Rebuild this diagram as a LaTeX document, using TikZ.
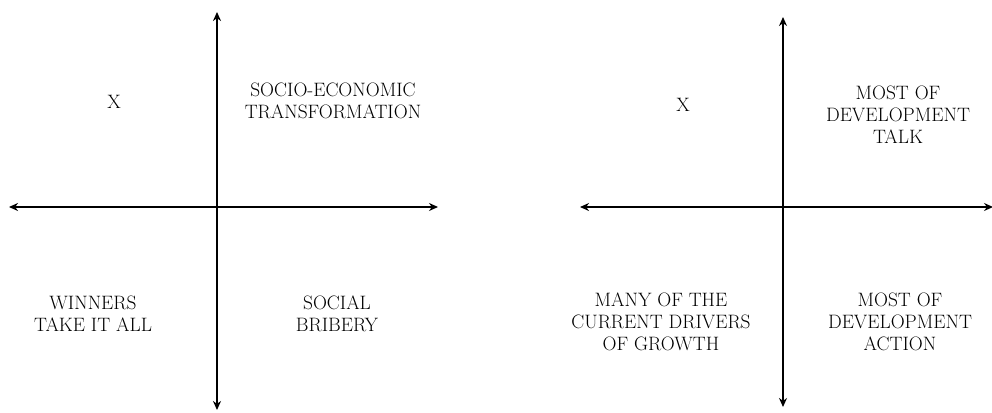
\documentclass[tikz,border=0pt]{standalone}
\usetikzlibrary{arrows.meta,positioning}

\tikzset{
  axis/.style={line width=2pt, {Stealth[length=9pt,width=8pt]}-{Stealth[length=9pt,width=8pt]}},
  quad/.style={draw=none, align=center, font=\fontsize{19.4}{22}\selectfont}
}

\begin{document}
\begin{tikzpicture}[x=1pt, y=-1pt]

\useasboundingbox (0,0) rectangle (992,412);

% Left diagram: axes
\coordinate (lN) at (217,12);
\coordinate (lS) at (217,410);
\coordinate (lW) at (9,207);
\coordinate (lE) at (438,207);
\draw[axis] (lS) -- (lN);
\draw[axis] (lW) -- (lE);

% Left diagram: quadrants
\node[quad] (lnw) at (114,102) {X};
\node[quad] (lne) at (333,101) {SOCIO-ECONOMIC\\TRANSFORMATION};
\node[quad] (lsw) at (93,314) {WINNERS\\TAKE IT ALL};
\node[quad] (lse) at (337,314) {SOCIAL\\BRIBERY};

% Right diagram: axes
\coordinate (rN) at (783,17);
\coordinate (rS) at (783,407);
\coordinate (rW) at (580,207);
\coordinate (rE) at (993,207);
\draw[axis] (rS) -- (rN);
\draw[axis] (rW) -- (rE);

% Right diagram: quadrants
\node[quad] (rnw) at (683,105) {X};
\node[quad] (rne) at (898,115) {MOST OF\\DEVELOPMENT\\TALK};
\node[quad] (rsw) at (661,322) {MANY OF THE\\CURRENT DRIVERS\\OF GROWTH};
\node[quad] (rse) at (900,322) {MOST OF\\DEVELOPMENT\\ACTION};

\end{tikzpicture}
\end{document}
